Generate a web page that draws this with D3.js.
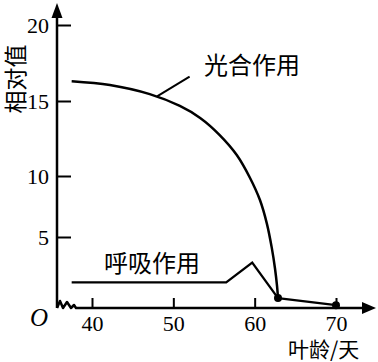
<!DOCTYPE html>
<html>
<head>
<meta charset="utf-8">
<script src="https://cdn.jsdelivr.net/npm/d3@7"></script>
<style>
  body { margin: 0; background: #fff; }
  svg { display: block; }
</style>
</head>
<body>
<script>
const xTicks = [40, 50, 60, 70];
const yTicks = [5, 10, 15, 20];

// 光合作用
const photoAge = [37.5, 42.2, 47.1, 50.8, 53.3, 55.7, 57.8, 59.4, 60.65, 61.5, 62.1, 62.5, 62.75, 62.87];
const photoVal = [16.3, 16.05, 15.45, 14.67, 13.87, 12.73, 11.4, 9.88, 8.03, 6.1, 4.25, 2.78, 1.55, 0.7];

// 呼吸作用
const respAge = [37.5, 56.5, 59.7, 62.87];
const respVal = [1.8, 1.8, 3.2, 0.7];

// shared tail after day 63
const tailAge = [62.87, 70];
const tailVal = [0.7, 0.2];

const width = 378;
const height = 362;

const svg = d3.select('body')
  .append('svg')
  .attr('width', width)
  .attr('height', height);

const x = d3.scaleLinear()
  .domain([40, 70])
  .range([92, 336]);

// the drawing's y axis is not evenly spaced, follow it piecewise
const y = d3.scaleLinear()
  .domain([0, 5, 10, 15, 20])
  .range([308, 237, 176, 101, 25]);

const x0 = 57;
const y0 = y(0);

const toPoints = (ages, vals) => ages.map((a, i) => [a, vals[i]]);

const smooth = d3.line()
  .x((d) => x(d[0]))
  .y((d) => y(d[1]))
  .curve(d3.curveCatmullRom.alpha(0.5));

const straight = d3.line()
  .x((d) => x(d[0]))
  .y((d) => y(d[1]));

// axes
svg.append('path')
  .attr('d', `M${x0},${y0} V12`)
  .attr('stroke', '#000')
  .attr('stroke-width', 2.5)
  .attr('fill', 'none');

svg.append('path')
  .attr('d', `M${x0 - 5.5},18 L${x0},3 L${x0 + 5.5},18 Z`)
  .attr('fill', '#000');

svg.append('path')
  .attr('d', `M${x0},${y0} L60,${y0 - 7} L63,${y0} L67,${y0 - 6} L71,${y0} L74,${y0 - 3} L76,${y0} H366`)
  .attr('stroke', '#000')
  .attr('stroke-width', 2.5)
  .attr('stroke-linejoin', 'round')
  .attr('fill', 'none');

svg.append('path')
  .attr('d', `M362,${y0 - 6} L376,${y0} L362,${y0 + 6} Z`)
  .attr('fill', '#000');

const yAxis = svg.append('g')
  .attr('transform', `translate(${x0},0)`)
  .call(d3.axisLeft(y).tickValues(yTicks).tickSize(-14).tickPadding(8));

const xAxis = svg.append('g')
  .attr('transform', `translate(0,${y0})`)
  .call(d3.axisBottom(x).tickValues(xTicks).tickSize(-10).tickPadding(6));

[yAxis, xAxis].forEach((g) => {
  g.select('.domain').remove();
  g.selectAll('.tick line').attr('stroke', '#000').attr('stroke-width', 2);
  g.selectAll('.tick text')
    .attr('fill', '#000')
    .style('font-family', '"Liberation Serif", serif')
    .style('font-size', '22px');
});

xAxis.selectAll('.tick text')
  .attr('y', 15)
  .attr('dy', '0.35em');

// curves
svg.append('path')
  .datum(toPoints(photoAge, photoVal))
  .attr('d', smooth)
  .attr('fill', 'none')
  .attr('stroke', '#000')
  .attr('stroke-width', 2.5);

svg.append('path')
  .datum(toPoints(respAge, respVal))
  .attr('d', straight)
  .attr('fill', 'none')
  .attr('stroke', '#000')
  .attr('stroke-width', 2.3);

svg.append('path')
  .datum(toPoints(tailAge, tailVal))
  .attr('d', straight)
  .attr('fill', 'none')
  .attr('stroke', '#000')
  .attr('stroke-width', 2.3);

svg.selectAll('.dot')
  .data(toPoints(tailAge, tailVal))
  .enter()
  .append('circle')
  .attr('class', 'dot')
  .attr('cx', (d) => x(d[0]))
  .attr('cy', (d) => y(d[1]))
  .attr('r', 4)
  .attr('fill', '#000');

// leader to the photosynthesis label
svg.append('line')
  .attr('x1', x(48))
  .attr('y1', y(15.3))
  .attr('x2', x(52))
  .attr('y2', y(16.6))
  .attr('stroke', '#000')
  .attr('stroke-width', 2);

const cjk = '"Noto Sans CJK SC", sans-serif';

const label = (txt, px, py, size) => svg.append('text')
  .attr('x', px)
  .attr('y', py)
  .attr('dominant-baseline', 'central')
  .style('font-family', cjk)
  .style('font-size', size + 'px')
  .text(txt);

label('光合作用', 204, 63, 24);
label('呼吸作用', 104, 261, 24);
label('叶龄/天', 288, 348, 21);

svg.append('text')
  .attr('transform', 'translate(14,79) rotate(-90)')
  .attr('text-anchor', 'middle')
  .attr('dominant-baseline', 'central')
  .style('font-family', cjk)
  .style('font-size', '23px')
  .text('相对值');

svg.append('text')
  .attr('x', 39)
  .attr('y', 317)
  .attr('text-anchor', 'middle')
  .attr('dominant-baseline', 'central')
  .style('font-family', '"Liberation Serif", serif')
  .style('font-style', 'italic')
  .style('font-size', '25px')
  .text('O');
</script>
</body>
</html>
